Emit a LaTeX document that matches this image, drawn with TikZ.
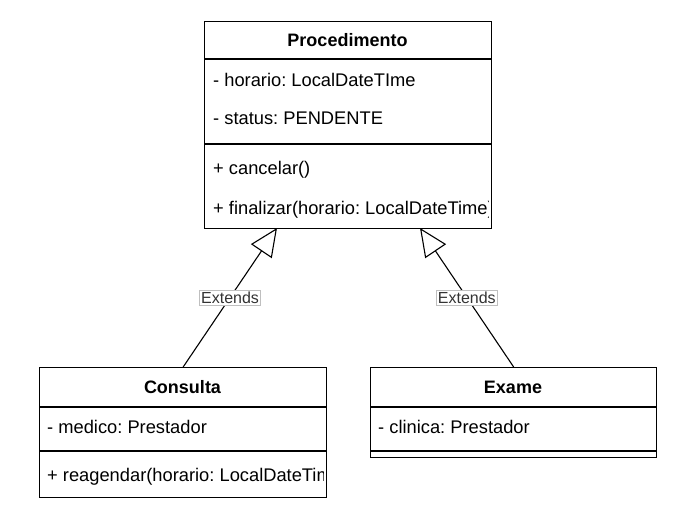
\documentclass[tikz,border=0pt]{standalone}
\usepackage{fontspec}
\setmainfont{Liberation Sans}
\frenchspacing
\usetikzlibrary{arrows.meta}
\tikzset{
  classbox/.style={draw, line width=1.3pt, fill=white, inner sep=0pt, anchor=north west},
  classname/.style={font=\fontsize{18}{21}\selectfont\bfseries, inner sep=0pt},
  member/.style={font=\fontsize{18.3}{21}\selectfont, inner sep=0pt, anchor=west},
  extends/.style={draw, line width=1.1pt, -{Triangle[open, length=28pt, width=25pt, fill=white]}},
  tag/.style={font=\fontsize{16}{19}\selectfont, text=black!80, fill=white, draw=black!25, line width=0.6pt, inner sep=1.5pt}
}
\begin{document}
\begin{tikzpicture}[x=1pt,y=-1pt]
\useasboundingbox (0,0) rectangle (689,506);
\node[classbox, minimum width=287pt, minimum height=207pt] (proc) at (204,21) {};
\draw[line width=1.3pt] (204,59) -- (491,59) (204,144) -- (491,144);
\node[classname] (procName) at (347.5,40) {Procedimento};
\node[member] (procHorario) at (213,80) {- horario: LocalDateTIme};
\node[member] (procStatus) at (213,118) {- status: PENDENTE};
\node[member] (procCancelar) at (213,170) {+ cancelar()};
\begin{scope}
\clip (205,145) rectangle (488,227);
\node[member] (procFinalizar) at (213,210) {+ finalizar(horario: LocalDateTime)};
\end{scope}

\node[classbox, minimum width=287pt, minimum height=130pt] (cons) at (39,367) {};
\draw[line width=1.3pt] (39,407) -- (326,407) (39,451) -- (326,451);
\node[classname] (consName) at (182.5,387) {Consulta};
\node[member] (consMedico) at (47,427) {- medico: Prestador};
\begin{scope}
\clip (40,452) rectangle (323,496);
\node[member] (consReagendar) at (47,477) {+ reagendar(horario: LocalDateTime)};
\end{scope}

\node[classbox, minimum width=286pt, minimum height=90pt] (exame) at (370,367) {};
\draw[line width=1.3pt] (370,407) -- (656,407) (370,451) -- (656,451);
\node[classname] (exameName) at (513,387) {Exame};
\node[member] (exameClinica) at (378,427) {- clinica: Prestador};

\coordinate (procLeft) at (277,228);
\coordinate (procRight) at (420,228);
\draw[extends] (cons.north) -- node[tag] (consTag) {Extends} (procLeft);
\draw[extends] (exame.north) -- node[tag] (exameTag) {Extends} (procRight);
\end{tikzpicture}
\end{document}
